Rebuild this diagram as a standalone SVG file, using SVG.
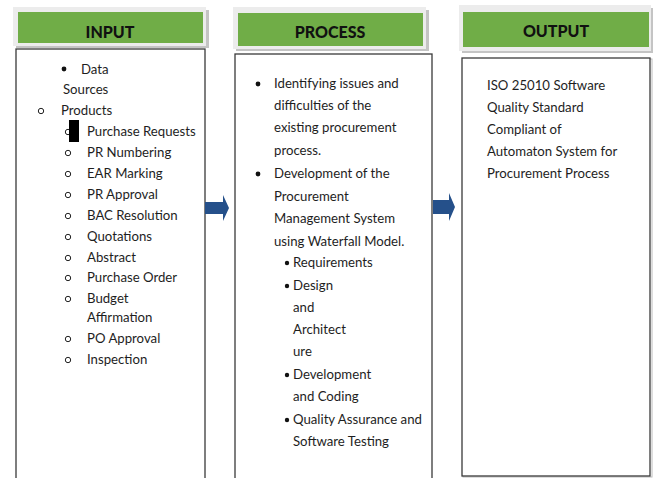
<svg xmlns="http://www.w3.org/2000/svg" width="655" height="478" viewBox="0 0 655 478">
  <defs>
    <style>
      .halo { fill: #ececec; }
      .shade { fill: #c4c4c4; }
      .head { fill: #70ad47; }
      .htext { font-family: Lato, "Liberation Sans", sans-serif; font-weight: 900; font-size: 16px; fill: #111111; text-anchor: middle; }
      .panel { fill: #ffffff; stroke: #3a3a3a; stroke-width: 1.3; }
      .t { font-family: Lato, "Liberation Sans", sans-serif; font-size: 13.2px; fill: #1e1e1e; }
      .dot { fill: #111111; }
      .ring { fill: none; stroke: #222222; stroke-width: 1; }
      .arrow { fill: #25508a; }
    </style>
  </defs>

  <rect width="655" height="478" fill="#ffffff"/>

  <!-- INPUT column -->
  <g id="input">
    <rect class="shade" x="16" y="10" width="193" height="38"/>
    <rect class="halo" x="13" y="7" width="193" height="39"/>
    <rect class="head" x="18" y="12" width="185" height="31"/>
    <text class="htext" x="110" y="38">INPUT</text>
    <rect class="panel" x="16" y="49" width="189" height="440"/>
    <circle class="dot" cx="64" cy="69" r="2.4"/>
    <text class="t" x="81" y="74">Data</text>
    <text class="t" x="63" y="94">Sources</text>
    <circle class="ring" cx="41" cy="111" r="2.7"/>
    <text class="t" x="61" y="115">Products</text>
    <circle class="ring" cx="68" cy="132" r="2.7"/>
    <rect x="69" y="120" width="10" height="22" fill="#000000"/>
    <text class="t" x="87" y="136">Purchase Requests</text>
    <circle class="ring" cx="68" cy="153" r="2.7"/>
    <text class="t" x="87" y="157">PR Numbering</text>
    <circle class="ring" cx="68" cy="174" r="2.7"/>
    <text class="t" x="87" y="178">EAR Marking</text>
    <circle class="ring" cx="68" cy="195" r="2.7"/>
    <text class="t" x="87" y="199">PR Approval</text>
    <circle class="ring" cx="68" cy="216" r="2.7"/>
    <text class="t" x="87" y="220">BAC Resolution</text>
    <circle class="ring" cx="68" cy="237" r="2.7"/>
    <text class="t" x="87" y="241">Quotations</text>
    <circle class="ring" cx="68" cy="258" r="2.7"/>
    <text class="t" x="87" y="262">Abstract</text>
    <circle class="ring" cx="68" cy="278" r="2.7"/>
    <text class="t" x="87" y="282">Purchase Order</text>
    <circle class="ring" cx="68" cy="299" r="2.7"/>
    <text class="t" x="87" y="303">Budget</text>
    <text class="t" x="87" y="322">Affirmation</text>
    <circle class="ring" cx="68" cy="339" r="2.7"/>
    <text class="t" x="87" y="343">PO Approval</text>
    <circle class="ring" cx="68" cy="360" r="2.7"/>
    <text class="t" x="87" y="364">Inspection</text>
  </g>

  <!-- PROCESS column -->
  <g id="process">
    <rect class="shade" x="236" y="10" width="193" height="41"/>
    <rect class="halo" x="233" y="7" width="193" height="42"/>
    <rect class="head" x="238" y="13" width="185" height="33"/>
    <text class="htext" x="330" y="38">PROCESS</text>
    <rect class="panel" x="235" y="54" width="197" height="435"/>
    <circle class="dot" cx="258" cy="84" r="2.4"/>
    <text class="t" x="274" y="88">Identifying issues and</text>
    <text class="t" x="274" y="110">difficulties of the</text>
    <text class="t" x="274" y="132">existing procurement</text>
    <text class="t" x="274" y="155">process.</text>
    <circle class="dot" cx="258" cy="174" r="2.4"/>
    <text class="t" x="274" y="178">Development of the</text>
    <text class="t" x="274" y="201">Procurement</text>
    <text class="t" x="274" y="223">Management System</text>
    <text class="t" x="274" y="246">using Waterfall Model.</text>
    <circle class="dot" cx="287" cy="263" r="2.2"/>
    <text class="t" x="293" y="267">Requirements</text>
    <circle class="dot" cx="287" cy="286" r="2.2"/>
    <text class="t" x="293" y="290">Design</text>
    <text class="t" x="293" y="312">and</text>
    <text class="t" x="293" y="334">Architect</text>
    <text class="t" x="293" y="356">ure</text>
    <circle class="dot" cx="287" cy="375" r="2.2"/>
    <text class="t" x="293" y="379">Development</text>
    <text class="t" x="293" y="401">and Coding</text>
    <circle class="dot" cx="287" cy="420" r="2.2"/>
    <text class="t" x="293" y="424">Quality Assurance and</text>
    <text class="t" x="293" y="446">Software Testing</text>
  </g>

  <!-- OUTPUT column -->
  <g id="output">
    <rect class="shade" x="462" y="8" width="191" height="45"/>
    <rect class="halo" x="459" y="5" width="192" height="46"/>
    <rect class="head" x="463" y="12" width="186" height="35"/>
    <text class="htext" x="556" y="37">OUTPUT</text>
    <rect x="463" y="59" width="189" height="418" fill="none" stroke="#bcbcbc" stroke-width="1"/>
    <rect class="panel" x="462" y="58" width="188" height="418"/>
    <text class="t" x="487" y="90">ISO 25010 Software</text>
    <text class="t" x="487" y="112">Quality Standard</text>
    <text class="t" x="487" y="134">Compliant of</text>
    <text class="t" x="487" y="156">Automaton System for</text>
    <text class="t" x="487" y="178">Procurement Process</text>
  </g>

  <!-- block arrows between columns -->
  <g id="connectors">
    <polygon class="arrow" points="205,202 223,202 223,195 229,208 223,221 223,214 205,214"/>
    <polygon class="arrow" points="433,200 449,200 449,193 455,207 449,221 449,214 433,214"/>
  </g>
</svg>
